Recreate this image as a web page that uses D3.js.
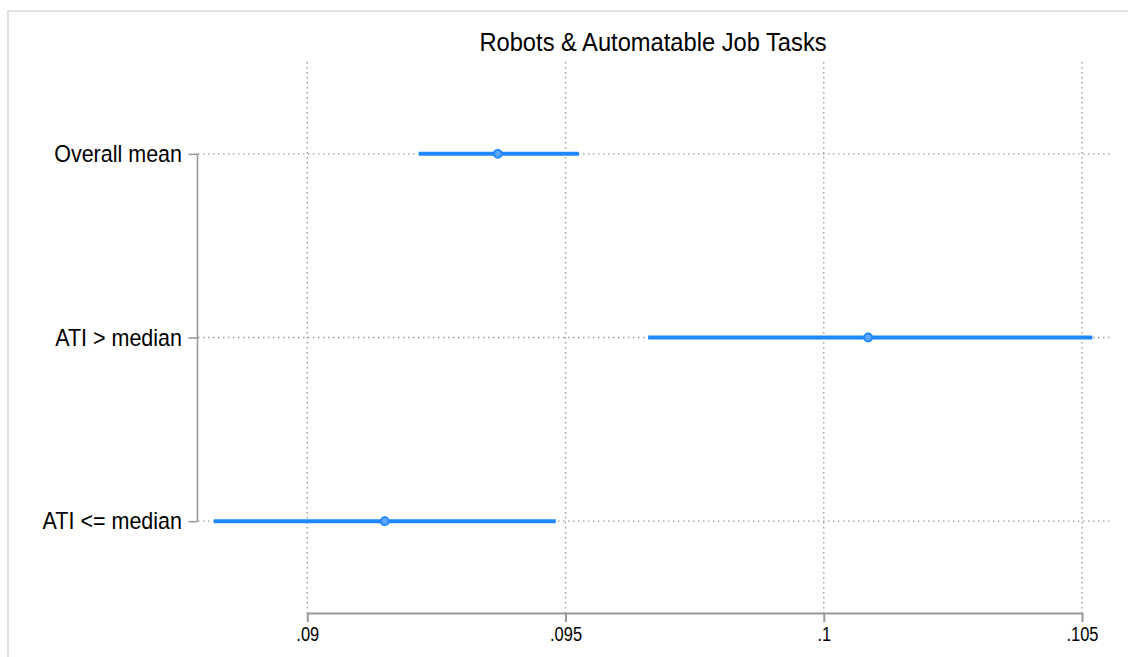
<!DOCTYPE html>
<html>
<head>
<meta charset="utf-8">
<script src="https://cdn.jsdelivr.net/npm/d3@7"></script>
<style>
  html, body { margin: 0; padding: 0; background: #fff; }
  svg { display: block; }
  text { font-family: "Liberation Sans", Arial, sans-serif; fill: #000; }
</style>
</head>
<body>
<svg id="chart" width="1128" height="657"></svg>
<script>
const title = "Robots & Automatable Job Tasks";
const categories = ["Overall mean", "ATI > median", "ATI <= median"];
const means = [0.09369, 0.10086, 0.09150];
const lower = [0.09216, 0.09660, 0.08819];
const upper = [0.09526, 0.10520, 0.09481];
const tickValues = [0.09, 0.095, 0.1, 0.105];
const tickLabels = [".09", ".095", ".1", ".105"];

const svg = d3.select("#chart");
const W = 1128, H = 657;

// outer frame
svg.append("rect")
  .attr("x", 8).attr("y", 11)
  .attr("width", W + 10).attr("height", H + 10)
  .attr("fill", "none").attr("stroke", "#e3e3e3").attr("stroke-width", 2);

const plotTop = 62, plotBottom = 613, plotLeft = 198, plotRight = 1110;

const x = d3.scaleLinear().domain([0.09, 0.105]).range([307.3, 1082]);
const y = d3.scalePoint().domain(categories).range([plotTop, plotBottom]).padding(0.5);

const gridColor = "#9a9a9a";

// vertical grid
svg.append("g").selectAll("line").data(tickValues).join("line")
  .attr("x1", d => x(d)).attr("x2", d => x(d))
  .attr("y1", plotTop).attr("y2", plotBottom)
  .attr("stroke", gridColor).attr("stroke-width", 1.4)
  .attr("stroke-dasharray", "1.5,3.5");

// horizontal grid
svg.append("g").selectAll("line").data(categories).join("line")
  .attr("x1", plotLeft).attr("x2", plotRight)
  .attr("y1", d => y(d)).attr("y2", d => y(d))
  .attr("stroke", gridColor).attr("stroke-width", 1.4)
  .attr("stroke-dasharray", "1.5,3.5");

// x axis
const xAxis = d3.axisBottom(x)
  .tickValues(tickValues)
  .tickFormat((d, i) => tickLabels[i])
  .tickSize(9)
  .tickSizeOuter(0)
  .tickPadding(6);
const gx = svg.append("g").attr("transform", `translate(0,${plotBottom})`).call(xAxis);
gx.select(".domain").attr("stroke", "#999").attr("stroke-width", 2);
gx.selectAll(".tick line").attr("stroke", "#999").attr("stroke-width", 2);
gx.selectAll(".tick text")
  .attr("font-size", "16.5px")
  .attr("font-family", "'Liberation Sans', Arial, sans-serif")
  .attr("fill", "#000")
  .attr("y", 0).attr("dy", 0)
  .attr("transform", "translate(0,27.5) scale(1,1.18)")
  .attr("dominant-baseline", "auto");

// y axis
const yAxis = d3.axisLeft(y).tickSize(9).tickSizeOuter(0).tickPadding(6);
const gy = svg.append("g").attr("transform", "translate(197.5,0)").call(yAxis);
gy.select(".domain").attr("stroke", "#999").attr("stroke-width", 1.6)
  .attr("d", `M0,${y(categories[0])}V${y(categories[categories.length - 1])}`);
gy.selectAll(".tick line").attr("stroke", "#999").attr("stroke-width", 1.6);
gy.selectAll(".tick text")
  .attr("font-size", "21.5px")
  .attr("font-family", "'Liberation Sans', Arial, sans-serif")
  .attr("fill", "#000")
  .attr("x", -15.5)
  .attr("dy", 0)
  .attr("transform", "translate(0,7.5) scale(1,1.1)")
  .attr("dominant-baseline", "auto");

// CI lines
const blue = "#1f87ff";
svg.append("g").selectAll("line").data(categories).join("line")
  .attr("x1", (d, i) => x(lower[i])).attr("x2", (d, i) => x(upper[i]))
  .attr("y1", d => y(d)).attr("y2", d => y(d))
  .attr("stroke", blue).attr("stroke-width", 4);

// points
svg.append("g").selectAll("circle").data(categories).join("circle")
  .attr("cx", (d, i) => x(means[i]))
  .attr("cy", d => y(d))
  .attr("r", 4)
  .attr("fill", "#5aa6ff")
  .attr("stroke", blue).attr("stroke-width", 1.8);

// title
svg.append("text")
  .attr("transform", "translate(653,51) scale(1,1.06)")
  .attr("text-anchor", "middle")
  .attr("font-size", "23.7px")
  .text(title);
</script>
</body>
</html>
